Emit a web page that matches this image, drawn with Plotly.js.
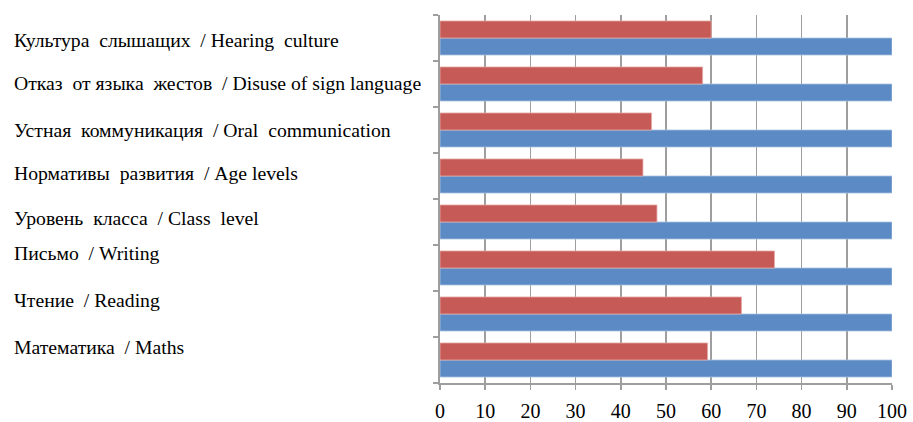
<!DOCTYPE html>
<html>
<head>
<meta charset="utf-8">
<script src="https://cdn.plot.ly/plotly-3.0.1.min.js"></script>
<style>html,body{margin:0;padding:0;background:#fff;}#chart{width:913px;height:422px;}</style>
</head>
<body>
<div id="chart"></div>
<script>
// Categories listed top to bottom as in the picture
const categories = [
  "Культура  слышащих  / Hearing  culture",
  "Отказ  от языка  жестов  / Disuse of sign language",
  "Устная  коммуникация  / Oral  communication",
  "Нормативы  развития  / Age levels",
  "Уровень  класса  / Class  level",
  "Письмо  / Writing",
  "Чтение  / Reading",
  "Математика  / Maths"
];
const redValues = [60.0, 58.1, 46.8, 44.9, 48.0, 74.0, 66.7, 59.2];
const blueValues = [100, 100, 100, 100, 100, 100, 100, 100];
const xTicks = [0, 10, 20, 30, 40, 50, 60, 70, 80, 90, 100];

// layout-only vertical nudges for the free-standing labels (px)
const labelNudge = [-2, 1, 0, 3, 4, 15, 14, 13];

// plot bottom-to-top so first category sits at top
const cats = categories.slice().reverse();
const reds = redValues.slice().reverse();
const blues = blueValues.slice().reverse();

const traces = [
  {type: 'bar', orientation: 'h', y: cats, x: blues, name: 'blue',
   marker: {color: '#5B8AC4', line: {color: '#A9C1E2', width: 0.8}}, hoverinfo: 'skip'},
  {type: 'bar', orientation: 'h', y: cats, x: reds, name: 'red',
   marker: {color: '#C65A57', line: {color: '#E4A9A7', width: 0.8}}, hoverinfo: 'skip'}
];

const annotations = categories.map((c, i) => ({
  xref: 'paper', x: 0, xanchor: 'left', xshift: -428,
  yref: 'y', y: c, yanchor: 'middle', yshift: labelNudge[i],
  text: c, showarrow: false,
  font: {family: 'Liberation Serif, Times New Roman, serif', size: 19.7, color: '#000'}
}));

const layout = {
  width: 913, height: 422,
  margin: {l: 440, r: 21, t: 15, b: 39},
  paper_bgcolor: '#fff', plot_bgcolor: '#fff',
  showlegend: false,
  barmode: 'group', bargap: 0.26, bargroupgap: 0,
  xaxis: {
    range: [0, 100], tickvals: xTicks, ticktext: xTicks.map(String),
    showgrid: true, gridcolor: '#9E9E9E', gridwidth: 1.6,
    zeroline: false, showline: true, linecolor: '#9E9E9E', linewidth: 1.6,
    ticks: 'outside', ticklen: 5, tickcolor: '#9E9E9E', tickwidth: 1.6,
    ticklabelstandoff: 4,
    tickfont: {family: 'Liberation Serif, Times New Roman, serif', size: 20, color: '#000'},
    fixedrange: true
  },
  yaxis: {
    type: 'category', categoryorder: 'array', categoryarray: cats,
    showticklabels: false, showgrid: false, zeroline: false,
    showline: true, linecolor: '#9E9E9E', linewidth: 1.6,
    ticks: 'outside', tickson: 'boundaries', ticklen: 5, tickcolor: '#9E9E9E', tickwidth: 1.6,
    fixedrange: true
  },
  annotations: annotations
};

Plotly.newPlot('chart', traces, layout, {displayModeBar: false, staticPlot: true});
</script>
</body>
</html>
